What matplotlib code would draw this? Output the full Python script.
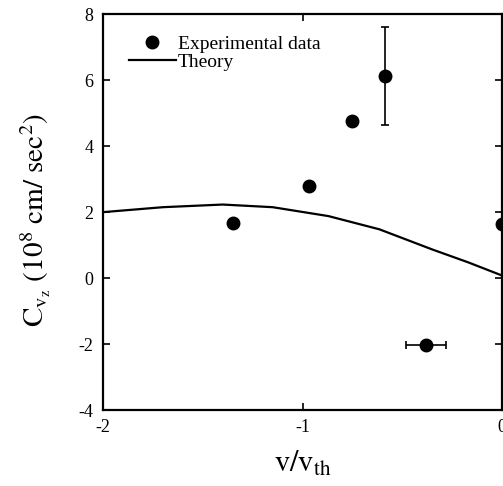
import numpy as np
import matplotlib
matplotlib.use("Agg")
import matplotlib.pyplot as plt
from matplotlib.lines import Line2D

plt.rcParams['font.family'] = ['Liberation Serif', 'DejaVu Serif']
plt.rcParams['mathtext.fontset'] = 'stix'
plt.rcParams['axes.unicode_minus'] = False

exp_x = [-1.35, -0.97, -0.75, -0.585, -0.38, 0.0]
exp_y = [1.68, 2.80, 4.75, 6.12, -2.04, 1.64]
# asymmetric error bars: (lower, upper)
yerr_lo = [0, 0, 0, 1.48, 0, 0]
yerr_hi = [0, 0, 0, 1.50, 0, 0]
xerr_lo = [0, 0, 0, 0, 0.10, 0]
xerr_hi = [0, 0, 0, 0, 0.10, 0]

# Theory curve
th_x = [-2.0, -1.7, -1.4, -1.15, -0.87, -0.615, -0.35, -0.17, 0.0]
th_y = [2.0, 2.15, 2.23, 2.15, 1.88, 1.48, 0.87, 0.48, 0.08]

xticks = [-2, -1, 0]
yticks = [-4, -2, 0, 2, 4, 6, 8]

fig = plt.figure(figsize=(5.03, 4.86), dpi=100)
ax = fig.add_axes([0.205, 0.156, 0.793, 0.815])

ax.plot(th_x, th_y, 'k-', linewidth=1.6)
ax.errorbar(exp_x, exp_y, yerr=[yerr_lo, yerr_hi], xerr=[xerr_lo, xerr_hi],
            fmt='o', color='k', markersize=9, elinewidth=1.2, capsize=3,
            capthick=1.2, clip_on=False)

ax.set_xlim(-2, 0)
ax.set_ylim(-4, 8)
ax.set_xticks(xticks)
ax.set_yticks(yticks)
ax.tick_params(direction='in', length=5, width=1.2, top=True, right=True,
               labelsize=13)
ax.tick_params(axis='x', pad=6)
ax.tick_params(axis='y', pad=7)
for s in ax.spines.values():
    s.set_linewidth(1.6)

ax.set_xlabel(r"$\mathrm{v/v_{th}}$", fontsize=22, labelpad=10)
ax.set_ylabel(r"$\mathrm{C_{v_z}}\ \mathrm{(10^8\ cm/\ sec^2)}$", fontsize=21)
ax.yaxis.set_label_coords(-0.125, 0.48)

handles = [Line2D([], [], color='k', marker='o', linestyle='none', markersize=9),
           Line2D([], [], color='k', linewidth=1.6)]
labels = ["Experimental data", "Theory"]
ax.legend(handles, labels, loc='upper left', bbox_to_anchor=(0.065, 0.947),
          frameon=False, fontsize=14, handlelength=2.4, handletextpad=0.1,
          labelspacing=0.03, borderpad=0, borderaxespad=0)

fig.savefig("out.png", dpi=100)
